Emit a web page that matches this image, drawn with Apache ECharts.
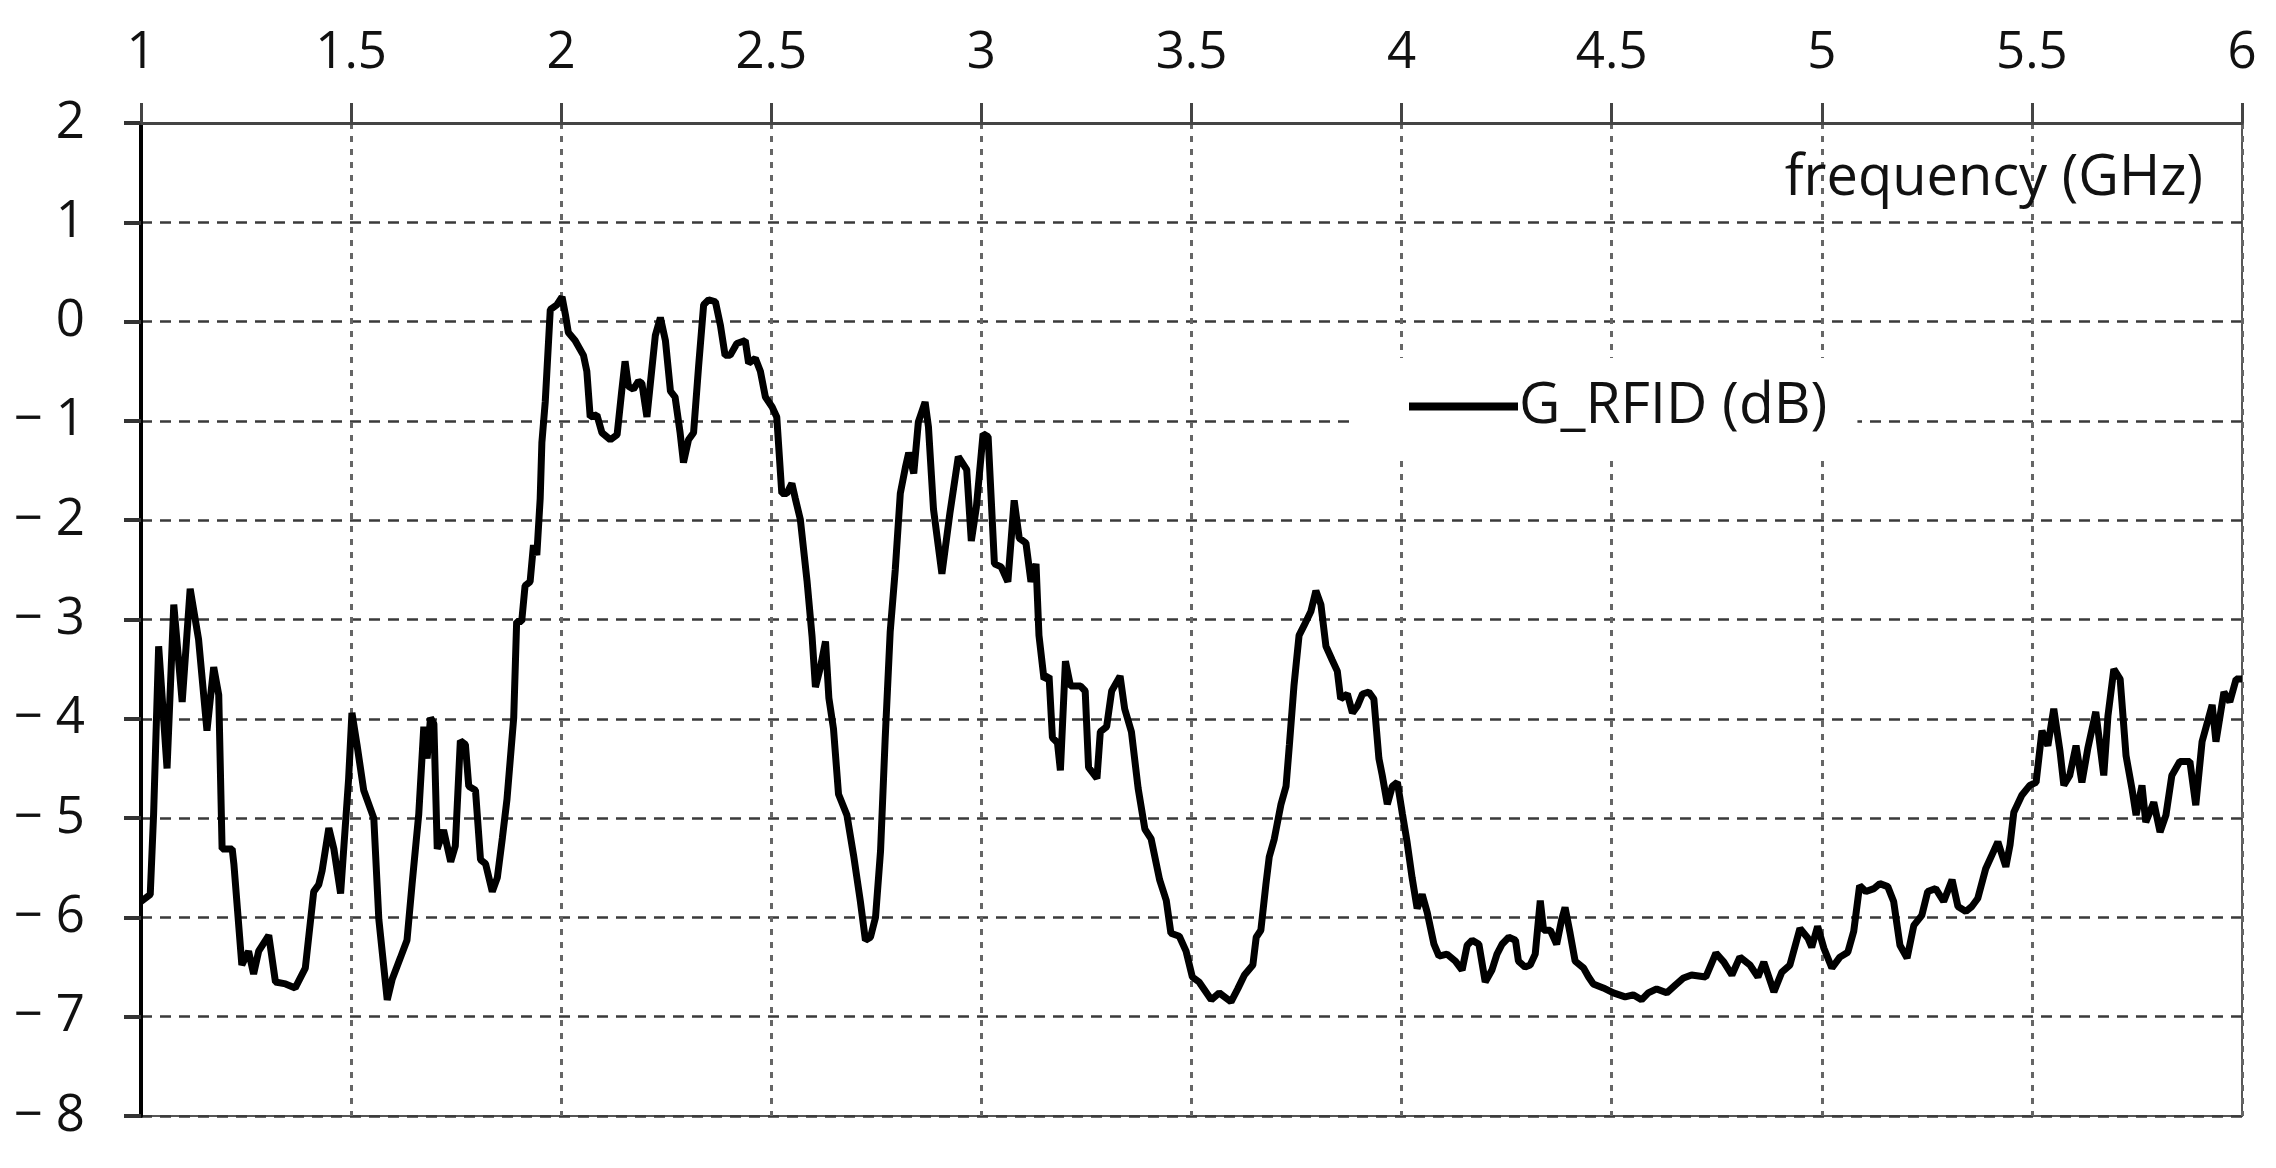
<!DOCTYPE html>
<html>
<head>
<meta charset="utf-8">
<script src="https://cdn.jsdelivr.net/npm/echarts@6/dist/echarts.min.js"></script>
<style>
html,body{margin:0;padding:0;background:#fff;}
#chart{width:2276px;height:1168px;}
</style>
</head>
<body>
<div id="chart"></div>
<script>
// frequency (GHz)
const freq = [
1.000,1.022,1.030,1.042,1.062,1.078,1.098,1.117,1.137,1.157,1.173,1.185,1.193,1.217,1.221,1.240,1.256,1.268,1.280,1.304,
1.320,1.344,1.367,1.391,1.411,1.423,1.431,1.447,1.459,1.475,1.494,1.502,1.514,1.530,1.554,1.566,1.586,1.598,1.617,1.633,
1.645,1.661,1.673,1.681,1.689,1.697,1.705,1.720,1.737,1.748,1.760,1.772,1.780,1.796,1.808,1.820,1.836,1.848,1.860,1.871,
1.887,1.894,1.906,1.914,1.926,1.934,1.942,1.950,1.954,1.962,1.974,1.990,2.002,2.010,2.017,2.033,2.053,2.061,2.069,2.085,
2.097,2.117,2.133,2.144,2.152,2.160,2.172,2.184,2.192,2.204,2.212,2.224,2.236,2.248,2.260,2.271,2.283,2.291,2.303,2.315,
2.327,2.339,2.351,2.367,2.379,2.390,2.402,2.418,2.438,2.446,2.462,2.474,2.486,2.502,2.513,2.525,2.537,2.549,2.557,2.569,
2.585,2.597,2.605,2.617,2.629,2.637,2.648,2.660,2.680,2.696,2.712,2.724,2.736,2.748,2.760,2.771,2.783,2.795,2.807,2.819,
2.827,2.839,2.850,2.866,2.874,2.886,2.906,2.925,2.945,2.965,2.976,2.988,3.004,3.016,3.031,3.047,3.063,3.078,3.090,3.106,
3.118,3.130,3.137,3.149,3.161,3.169,3.181,3.188,3.200,3.212,3.236,3.247,3.255,3.275,3.283,3.298,3.310,3.330,3.341,3.357,
3.373,3.389,3.404,3.424,3.440,3.451,3.471,3.487,3.502,3.518,3.547,3.566,3.594,3.610,3.626,3.646,3.654,3.665,3.677,3.685,
3.697,3.713,3.725,3.733,3.744,3.756,3.768,3.784,3.796,3.808,3.820,3.835,3.847,3.855,3.871,3.883,3.895,3.907,3.922,3.934,
3.946,3.954,3.966,3.978,3.990,4.002,4.013,4.025,4.037,4.049,4.061,4.077,4.089,4.108,4.128,4.144,4.156,4.168,4.184,4.199,
4.215,4.227,4.239,4.255,4.271,4.278,4.294,4.306,4.318,4.330,4.338,4.354,4.369,4.381,4.389,4.401,4.413,4.433,4.445,4.456,
4.480,4.504,4.532,4.551,4.571,4.587,4.607,4.631,4.652,4.671,4.690,4.724,4.748,4.767,4.786,4.805,4.829,4.848,4.862,4.886,
4.905,4.924,4.948,4.967,4.976,4.990,5.005,5.024,5.043,5.062,5.076,5.090,5.105,5.124,5.138,5.157,5.171,5.186,5.203,5.219,
5.238,5.252,5.271,5.290,5.310,5.324,5.343,5.357,5.371,5.390,5.405,5.419,5.438,5.448,5.457,5.476,5.495,5.510,5.524,5.538,
5.552,5.567,5.576,5.590,5.605,5.619,5.633,5.652,5.671,5.681,5.695,5.710,5.724,5.738,5.748,5.762,5.771,5.790,5.805,5.819,
5.833,5.852,5.876,5.890,5.905,5.929,5.938,5.957,5.971,5.986,6.000
];
// G_RFID (dB)
const gain = [
-5.84,-5.77,-4.96,-3.27,-4.50,-2.85,-3.83,-2.69,-3.20,-4.12,-3.48,-3.76,-5.31,-5.31,-5.46,-6.48,-6.34,-6.57,-6.34,-6.18,
-6.65,-6.67,-6.71,-6.51,-5.74,-5.67,-5.53,-5.10,-5.31,-5.76,-4.61,-3.94,-4.26,-4.72,-5.00,-6.02,-6.83,-6.62,-6.41,-6.23,
-5.67,-4.96,-4.08,-4.40,-3.99,-4.05,-5.31,-5.12,-5.44,-5.28,-4.22,-4.26,-4.68,-4.72,-5.42,-5.46,-5.74,-5.60,-5.20,-4.81,
-3.99,-3.02,-3.02,-2.66,-2.62,-2.25,-2.35,-1.78,-1.22,-0.81,0.12,0.17,0.25,0.07,-0.11,-0.19,-0.34,-0.50,-0.96,-0.94,
-1.12,-1.19,-1.14,-0.70,-0.40,-0.65,-0.68,-0.60,-0.62,-0.96,-0.63,-0.14,0.04,-0.19,-0.70,-0.76,-1.12,-1.42,-1.19,-1.12,
-0.45,0.17,0.22,0.20,-0.04,-0.34,-0.34,-0.22,-0.19,-0.42,-0.37,-0.50,-0.76,-0.86,-0.96,-1.73,-1.73,-1.63,-1.78,-1.99,
-2.61,-3.17,-3.68,-3.48,-3.22,-3.79,-4.10,-4.76,-4.97,-5.38,-5.84,-6.23,-6.20,-6.00,-5.33,-4.20,-3.12,-2.50,-1.73,-1.47,
-1.32,-1.53,-1.01,-0.81,-1.06,-1.89,-2.54,-1.93,-1.36,-1.49,-2.21,-1.87,-1.13,-1.16,-2.44,-2.47,-2.62,-1.80,-2.18,-2.23,
-2.62,-2.44,-3.16,-3.60,-3.57,-4.19,-4.24,-4.52,-3.42,-3.67,-3.67,-3.72,-4.49,-4.60,-4.13,-4.08,-3.72,-3.57,-3.90,-4.13,
-4.70,-5.11,-5.21,-5.62,-5.83,-6.16,-6.19,-6.34,-6.60,-6.65,-6.83,-6.76,-6.85,-6.72,-6.58,-6.48,-6.20,-6.13,-5.67,-5.39,
-5.21,-4.86,-4.68,-4.26,-3.66,-3.16,-3.06,-2.92,-2.71,-2.85,-3.27,-3.41,-3.52,-3.80,-3.75,-3.94,-3.87,-3.75,-3.73,-3.80,
-4.40,-4.57,-4.86,-4.68,-4.64,-4.96,-5.24,-5.60,-5.91,-5.77,-5.95,-6.27,-6.39,-6.37,-6.44,-6.53,-6.28,-6.23,-6.27,-6.65,
-6.53,-6.37,-6.27,-6.20,-6.23,-6.44,-6.50,-6.48,-6.37,-5.83,-6.13,-6.13,-6.27,-6.02,-5.90,-6.16,-6.44,-6.51,-6.60,-6.67,
-6.71,-6.76,-6.80,-6.78,-6.83,-6.76,-6.72,-6.76,-6.68,-6.61,-6.58,-6.60,-6.36,-6.45,-6.58,-6.40,-6.48,-6.60,-6.45,-6.75,
-6.55,-6.48,-6.11,-6.21,-6.30,-6.09,-6.31,-6.51,-6.40,-6.35,-6.14,-5.68,-5.74,-5.71,-5.66,-5.69,-5.84,-6.28,-6.41,-6.08,
-5.98,-5.74,-5.71,-5.84,-5.62,-5.89,-5.94,-5.89,-5.81,-5.51,-5.37,-5.24,-5.49,-5.27,-4.94,-4.77,-4.67,-4.64,-4.12,-4.27,
-3.90,-4.33,-4.67,-4.57,-4.27,-4.64,-4.30,-3.93,-4.57,-3.97,-3.50,-3.60,-4.37,-4.70,-4.97,-4.67,-5.04,-4.84,-5.14,-4.97,
-4.57,-4.43,-4.43,-4.87,-4.23,-3.86,-4.23,-3.73,-3.83,-3.60,-3.60
];
const seriesName = 'G_RFID (dB)';
const xAxisTitle = 'frequency (GHz)';

const data = freq.map((f, i) => [f, gain[i]]);
const FONT = '"Open Sans", "Noto Sans", sans-serif';

const chart = echarts.init(document.getElementById('chart'), null, {renderer: 'canvas'});
chart.setOption({
  animation: false,
  backgroundColor: '#ffffff',
  grid: {
    left: 141, right: 34, top: 123, bottom: 52,
    show: true, borderColor: '#555', borderWidth: 2, backgroundColor: 'transparent'
  },
  title: {
    text: xAxisTitle,
    right: 68, top: 146,
    textStyle: {fontFamily: FONT, fontSize: 56, fontWeight: 'normal', color: '#111'}
  },
  legend: {
    data: [seriesName],
    left: 1355, top: 358,
    backgroundColor: '#ffffff',
    padding: [20, 30, 20, 54],
    itemWidth: 109, itemHeight: 8, itemGap: 10,
    icon: 'rect',
    itemStyle: {color: '#000'},
    textStyle: {fontFamily: FONT, fontSize: 57, color: '#111', padding: [0, 0, 0, -4]}
  },
  xAxis: {
    type: 'value', position: 'top', min: 1, max: 6, interval: 0.5,
    axisLine: {show: true, onZero: false, lineStyle: {color: '#444', width: 3}},
    axisTick: {show: true, inside: false, length: 20, lineStyle: {color: '#444', width: 3}},
    axisLabel: {fontFamily: FONT, fontSize: 51, color: '#111', margin: 44},
    splitLine: {show: true, lineStyle: {color: '#666', width: 3, type: [6, 7]}}
  },
  yAxis: {
    type: 'value', min: -8, max: 2, interval: 1,
    axisLine: {show: true, onZero: false, lineStyle: {color: '#000', width: 4}},
    axisTick: {show: true, length: 17, lineStyle: {color: '#333', width: 4}},
    axisLabel: {
      fontFamily: FONT, fontSize: 51, color: '#111', margin: 56,
      formatter: v => (v < 0 ? '\u2212 ' + Math.abs(v) : String(v))
    },
    splitLine: {show: true, lineStyle: {color: '#3a3a3a', width: 2.5, type: [11, 8]}}
  },
  series: [{
    name: seriesName,
    type: 'line',
    data: data,
    symbol: 'none',
    smooth: false,
    lineStyle: {color: '#000', width: 7},
    itemStyle: {color: '#000'}
  }]
});
</script>
</body>
</html>
